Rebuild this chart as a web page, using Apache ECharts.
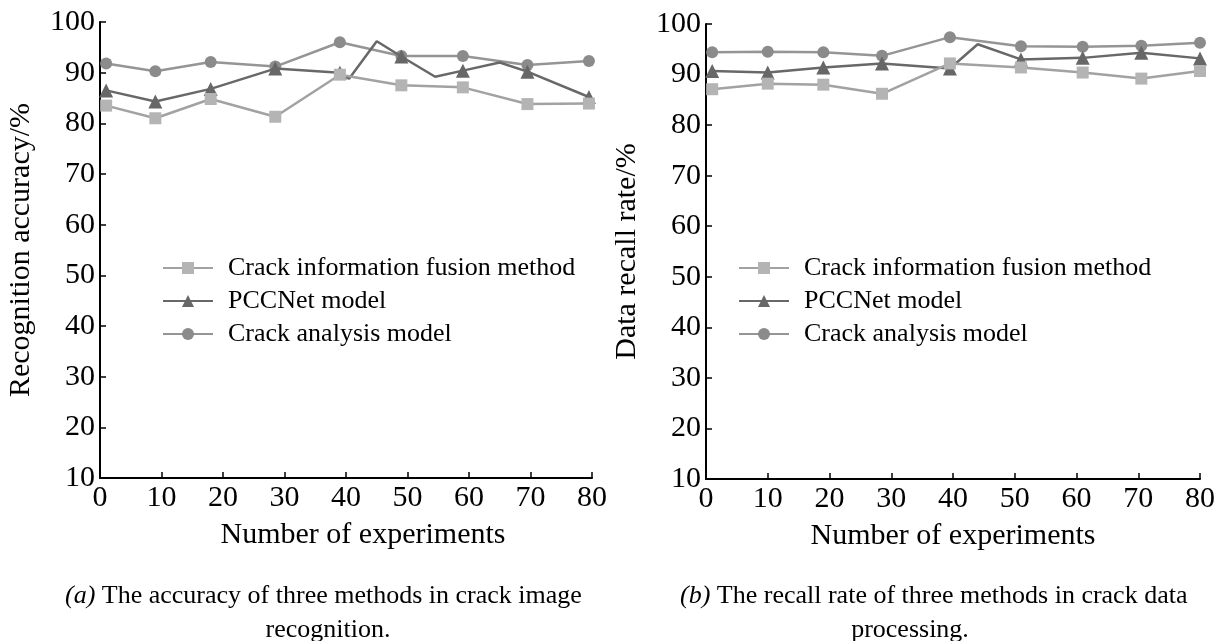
<!DOCTYPE html>
<html>
<head>
<meta charset="utf-8">
<script src="https://cdn.jsdelivr.net/npm/echarts@6/dist/echarts.min.js"></script>
<style>
html,body{margin:0;padding:0;background:#fff;}
#chart{width:1223px;height:641px;}
</style>
</head>
<body>
<div id="chart"></div>
<script>
// ---- data ----
var seriesNames = ['Crack information fusion method', 'PCCNet model', 'Crack analysis model'];
var xTicks = [0, 10, 20, 30, 40, 50, 60, 70, 80];
var yTicks = [10, 20, 30, 40, 50, 60, 70, 80, 90, 100];

// (a) accuracy
var xA = [1, 9, 18, 28.5, 39, 49, 59, 69.5, 79.5];
var fusionA = [83.5, 81.0, 84.8, 81.3, 89.6, 87.5, 87.1, 83.8, 83.9];
var pccA = [86.5, 84.3, 86.8, 90.8, 90.0, 93.2, 90.4, 90.2, 85.2];
var pccExtraXA = [40.5, 45, 54.5, 65];
var pccExtraYA = [88.8, 96.2, 89.2, 92.0];
var analysisA = [91.8, 90.3, 92.1, 91.2, 96.0, 93.3, 93.3, 91.5, 92.3];

// (b) recall rate
var xB = [1, 10, 19, 28.5, 39.5, 51, 61, 70.5, 80];
var fusionB = [87.1, 88.2, 88.0, 86.2, 92.2, 91.4, 90.4, 89.2, 90.7];
var pccB = [90.7, 90.4, 91.4, 92.2, 91.2, 93.0, 93.3, 94.3, 93.2];
var pccExtraXB = [44];
var pccExtraYB = [96.0];
var analysisB = [94.4, 94.5, 94.4, 93.7, 97.4, 95.6, 95.5, 95.7, 96.3];

var captionA1 = 'The accuracy of three methods in crack image';
var captionA2 = 'recognition.';
var captionB1 = 'The recall rate of three methods in crack data';
var captionB2 = 'processing.';

// ---- build ----
var FONT = '"Liberation Serif", "Times New Roman", serif';
function pairs(xs, ys) { return xs.map(function (x, i) { return [x, ys[i]]; }); }
function withExtra(xs, ys, ex, ey) {
  var d = xs.map(function (x, i) { return { value: [x, ys[i]] }; });
  ex.forEach(function (x, i) { d.push({ value: [x, ey[i]], symbol: 'none' }); });
  d.sort(function (a, b) { return a.value[0] - b.value[0]; });
  return d;
}

var C_FUS = '#b4b4b4', C_FUS_L = '#a2a2a2';
var C_PCC = '#676767', C_PCC_L = '#686868';
var C_ANA = '#8b8b8b', C_ANA_L = '#959595';

function xAxisCfg(idx, pad) {
  return {
    gridIndex: idx, type: 'value', min: 0, max: 80, interval: 10,
    name: 'Number of experiments', nameLocation: 'middle', nameGap: 42,
    nameTextStyle: { fontFamily: FONT, fontSize: 30, color: '#000', padding: [0, 0, 0, pad] },
    axisLine: { show: true, onZero: false, lineStyle: { color: '#000', width: 2 } },
    axisTick: { show: true, inside: true, length: 6, lineStyle: { color: '#000', width: 1.5 } },
    axisLabel: { fontFamily: FONT, fontSize: 30, color: '#000', margin: 5,
      formatter: function (v) { return xTicks.indexOf(v) >= 0 ? String(v) : ''; } },
    splitLine: { show: false }
  };
}
function yAxisCfg(idx, name) {
  return {
    gridIndex: idx, type: 'value', min: 10, max: 100, interval: 10,
    name: name, nameLocation: 'middle', nameGap: 64,
    nameTextStyle: { fontFamily: FONT, fontSize: 30, color: '#000' },
    axisLine: { show: true, lineStyle: { color: '#000', width: 2 } },
    axisTick: { show: true, inside: true, length: 6, lineStyle: { color: '#000', width: 1.5 } },
    axisLabel: { fontFamily: FONT, fontSize: 30, color: '#000', margin: 5,
      formatter: function (v) { return yTicks.indexOf(v) >= 0 ? String(v) : ''; } },
    splitLine: { show: false }
  };
}
function lineSeries(name, idx, data, symbol, color, lcolor, z) {
  return {
    name: name, type: 'line', xAxisIndex: idx, yAxisIndex: idx,
    data: data, symbol: symbol, symbolSize: symbol === 'triangle' ? 14 : 12,
    showAllSymbol: true, z: z,
    itemStyle: { color: color },
    lineStyle: { color: lcolor, width: 2.5 },
    emphasis: { disabled: true }, animation: false
  };
}
function legendCfg(left, id) {
  return {
    id: id, orient: 'vertical', left: left, top: 255, padding: 0,
    itemWidth: 50, itemHeight: 15, itemGap: 7,
    data: seriesNames,
    textStyle: { fontFamily: FONT, fontSize: 26, color: '#000', padding: [0, 0, 0, 10] }
  };
}

var chart = echarts.init(document.getElementById('chart'), null, { renderer: 'canvas' });
var option = {
  backgroundColor: '#fff',
  animation: false,
  grid: [
    { left: 100, top: 22, width: 492, height: 456 },
    { left: 706, top: 24, width: 494, height: 455 }
  ],
  legend: [legendCfg(162, 'la'), legendCfg(738, 'lb')],
  xAxis: [xAxisCfg(0, 34), xAxisCfg(1, 0)],
  yAxis: [yAxisCfg(0, 'Recognition accuracy/%'), yAxisCfg(1, 'Data recall rate/%')],
  series: [
    lineSeries(seriesNames[0], 0, pairs(xA, fusionA), 'rect', C_FUS, C_FUS_L, 4),
    lineSeries(seriesNames[1], 0, withExtra(xA, pccA, pccExtraXA, pccExtraYA), 'triangle', C_PCC, C_PCC_L, 3),
    lineSeries(seriesNames[2], 0, pairs(xA, analysisA), 'circle', C_ANA, C_ANA_L, 2),
    lineSeries(seriesNames[0], 1, pairs(xB, fusionB), 'rect', C_FUS, C_FUS_L, 4),
    lineSeries(seriesNames[1], 1, withExtra(xB, pccB, pccExtraXB, pccExtraYB), 'triangle', C_PCC, C_PCC_L, 3),
    lineSeries(seriesNames[2], 1, pairs(xB, analysisB), 'circle', C_ANA, C_ANA_L, 2)
  ],
  graphic: [
    { type: 'text', x: 65, y: 596, style: {
      text: '{i|(a)} ' + captionA1, font: '26px ' + FONT, fill: '#000', textVerticalAlign: 'middle',
      rich: { i: { fontStyle: 'italic', fontFamily: FONT, fontSize: 26, fill: '#000' } } } },
    { type: 'text', x: 328, y: 630, style: { text: captionA2, font: '26px ' + FONT, fill: '#000', textAlign: 'center', textVerticalAlign: 'middle' } },
    { type: 'text', x: 680, y: 596, style: {
      text: '{i|(b)} ' + captionB1, font: '26px ' + FONT, fill: '#000', textVerticalAlign: 'middle',
      rich: { i: { fontStyle: 'italic', fontFamily: FONT, fontSize: 26, fill: '#000' } } } },
    { type: 'text', x: 910, y: 630, style: { text: captionB2, font: '26px ' + FONT, fill: '#000', textAlign: 'center', textVerticalAlign: 'middle' } }
  ]
};
chart.setOption(option);
</script>
</body>
</html>
